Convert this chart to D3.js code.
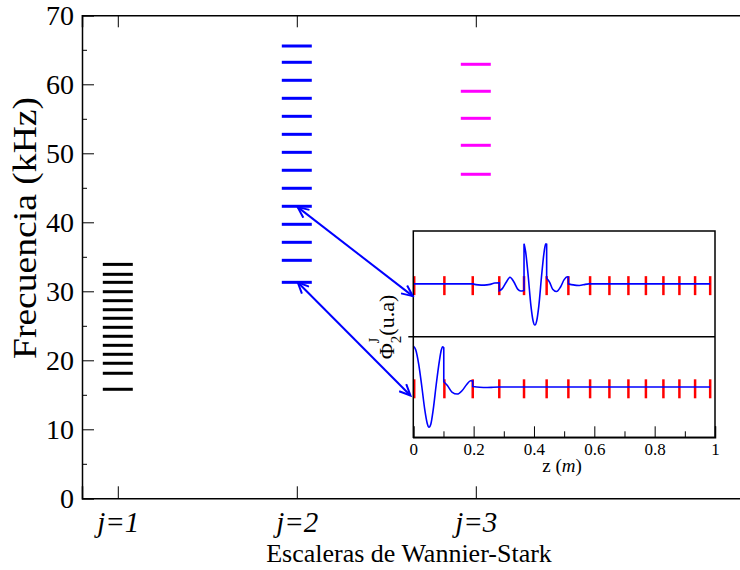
<!DOCTYPE html>
<html><head><meta charset="utf-8">
<script src="https://cdn.jsdelivr.net/npm/d3@7"></script>
<style>
body{margin:0;background:#fff}
svg{display:block}
text{font-family:"Liberation Serif","Times New Roman",serif;fill:#000}
</style></head>
<body><svg id="c" width="740" height="570"></svg>
<script>
// ---------- data ----------
const ladderJ = [1, 2, 3];
const xTickLabels = ["j=1", "j=2", "j=3"];
const levelsJ1 = [33.9, 32.46, 31.3, 29.94, 28.64, 27.33, 26.09, 24.78, 23.48, 22.17, 20.87, 19.57, 18.12, 15.8];
const levelsJ2 = [65.55, 63.19, 60.58, 57.97, 55.36, 52.75, 50.14, 47.54, 44.93, 42.32, 39.71, 37.1, 34.49, 31.3];
const levelsJ3 = [62.9, 58.99, 55.07, 51.16, 46.96];
const ladderColors = ["#000000", "#0000ff", "#ff00ff"];
const yTickValues = [0, 10, 20, 30, 40, 50, 60, 70];
const yMinorValues = [5, 15, 25, 35, 45, 55, 65];

// arrows: main-chart data coordinates (from level to inset)
const arrowFrom = [[2.005, 42.2], [2.005, 31.3]];
const arrowTo = [[2.648, 29.3], [2.635, 14.9]];

// inset
const zTickValues = [0, 0.2, 0.4, 0.6, 0.8, 1];
const zTickLabels = ["0", "0.2", "0.4", "0.6", "0.8", "1"];
const zMinorValues = [0.1, 0.3, 0.5, 0.7, 0.9];
const cavityZ = [0.003, 0.103, 0.197, 0.285, 0.367, 0.442, 0.514, 0.586, 0.650, 0.713, 0.771, 0.829, 0.882, 0.934, 0.984];
const modeUpper = [
  [[0, 0], [0.197, 0]],
  [[0.197, 0], [0.215, -0.02], [0.235, -0.025], [0.255, -0.01], [0.27, 0.015], [0.285, 0.02]],
  [[0.285, -0.13], [0.295, -0.09], [0.308, 0.03], [0.3205, 0.125], [0.333, 0.04], [0.346, -0.10], [0.356, -0.135], [0.367, -0.125]],
  [[0.367, 0.76], [0.372, 0.62], [0.38, 0.2], [0.39, -0.42], [0.397, -0.7], [0.403, -0.78], [0.409, -0.7], [0.416, -0.42], [0.426, 0.2], [0.434, 0.62], [0.439, 0.76], [0.442, 0.75]],
  [[0.442, 0.105], [0.452, 0.03], [0.462, -0.10], [0.475, -0.145], [0.488, -0.06], [0.5, 0.08], [0.51, 0.135], [0.514, 0.13]],
  [[0.514, 0], [0.53, -0.02], [0.55, -0.03], [0.57, -0.01], [0.586, 0.005]],
  [[0.586, 0], [0.984, 0]]
];
const modeLower = [
  [[0, 0.815], [0.008, 0.74], [0.018, 0.45], [0.028, 0.02], [0.038, -0.45], [0.046, -0.72], [0.052, -0.8], [0.058, -0.74], [0.066, -0.45], [0.076, 0.05], [0.086, 0.5], [0.093, 0.74], [0.097, 0.8], [0.101, 0.78]],
  [[0.101, 0.105], [0.113, 0.03], [0.128, -0.10], [0.146, -0.14], [0.162, -0.07], [0.177, 0.05], [0.19, 0.125], [0.197, 0.12]],
  [[0.197, 0.01], [0.22, -0.005], [0.245, -0.01], [0.265, -0.005], [0.285, 0]],
  [[0.285, 0], [0.984, 0]]
];

// ---------- layout ----------
const svg = d3.select("#c");
const x = d3.scaleLinear().domain([0.8, 4.5]).range([82, 744.3]);
const y = d3.scaleLinear().domain([0, 70]).range([498.3, 15.3]);
const ladders = [levelsJ1, levelsJ2, levelsJ3];

// bars
ladders.forEach((lv, i) => {
  svg.append("g").selectAll("line").data(lv).join("line")
    .attr("x1", x(ladderJ[i]) - 15).attr("x2", x(ladderJ[i]) + 15)
    .attr("y1", d => y(d)).attr("y2", d => y(d))
    .attr("stroke", ladderColors[i]).attr("stroke-width", 3);
});

// axes
function styleAxis(g, w) {
  g.select(".domain").attr("stroke", "#000").attr("stroke-width", w);
  g.selectAll(".tick line").attr("stroke", "#000").attr("stroke-width", 1);
}
const gl = svg.append("g").attr("transform", `translate(${x(0.8)},0)`)
  .call(d3.axisLeft(y).tickValues(yTickValues).tickSize(-12).tickPadding(8).tickFormat(d3.format("d")));
gl.selectAll(".tick text").attr("font-size", 28).attr("font-family", "Liberation Serif").attr("dy", "0.34em");
styleAxis(gl, 1.5);
const glm = svg.append("g").attr("transform", `translate(${x(0.8)},0)`)
  .call(d3.axisLeft(y).tickValues(yMinorValues).tickSize(-5).tickFormat(""));
glm.select(".domain").remove(); styleAxis(glm, 1);

const gb = svg.append("g").attr("transform", `translate(0,${y(0)})`)
  .call(d3.axisBottom(x).tickValues(ladderJ).tickSize(-12).tickPadding(13).tickFormat((d, i) => xTickLabels[i]));
gb.selectAll(".tick text").attr("font-size", 29).attr("font-style", "italic").attr("font-family", "Liberation Serif");
styleAxis(gb, 1.5);
const gt = svg.append("g").attr("transform", `translate(0,${y(70)})`)
  .call(d3.axisTop(x).tickValues(ladderJ).tickSize(-12).tickFormat(""));
styleAxis(gt, 1.5);

// axis titles
svg.append("text").attr("transform", "translate(36,228) rotate(-90)")
  .attr("text-anchor", "middle").attr("font-size", 34)
  .attr("textLength", 262).attr("lengthAdjust", "spacingAndGlyphs")
  .text("Frecuencia (kHz)");
svg.append("text").attr("x", 409).attr("y", 562).attr("text-anchor", "middle")
  .attr("font-size", 26).text("Escaleras de Wannier-Stark");

// ---------- inset ----------
const ix0 = 413.3, ix1 = 715, iy0 = 231, iMid = 336.7, iy1 = 437.3;
const z = d3.scaleLinear().domain([0, 1]).range([ix0, ix1]);
const inset = svg.append("g");
inset.append("rect").attr("x", ix0).attr("y", iy0).attr("width", ix1 - ix0).attr("height", iy1 - iy0)
  .attr("fill", "#fff").attr("stroke", "none");

function drawPanel(segs, top, bottom) {
  const ys = d3.scaleLinear().domain([-1, 1]).range([bottom, top]);
  const b = ys(0);
  inset.append("g").selectAll("line").data(cavityZ).join("line")
    .attr("x1", d => z(d)).attr("x2", d => z(d))
    .attr("y1", b - 7.7).attr("y2", b + 11.3)
    .attr("stroke", "#ff0000").attr("stroke-width", 2.5);
  const line = d3.line().x(d => z(d[0])).y(d => ys(d[1])).curve(d3.curveMonotoneX);
  const dStr = segs.map((s, i) => { const p = line(s); return i ? "L" + p.slice(1) : p; }).join("");
  inset.append("path").attr("d", dStr).attr("fill", "none").attr("stroke", "#0000ff").attr("stroke-width", 1.6);
}
drawPanel(modeUpper, iy0, iMid);
drawPanel(modeLower, iMid, iy1);

inset.append("rect").attr("x", ix0).attr("y", iy0).attr("width", ix1 - ix0).attr("height", iy1 - iy0)
  .attr("fill", "none").attr("stroke", "#000").attr("stroke-width", 1.5);
inset.append("line").attr("x1", ix0 - 5).attr("x2", ix1).attr("y1", iMid).attr("y2", iMid)
  .attr("stroke", "#000").attr("stroke-width", 1.5);

const gz = inset.append("g").attr("transform", `translate(0,${iy1})`)
  .call(d3.axisBottom(z).tickValues(zTickValues).tickSize(-11).tickPadding(6).tickFormat((d, i) => zTickLabels[i]));
gz.selectAll(".tick text").attr("font-size", 17).attr("font-family", "Liberation Serif");
styleAxis(gz, 1.5);
const gzm = inset.append("g").attr("transform", `translate(0,${iy1})`)
  .call(d3.axisBottom(z).tickValues(zMinorValues).tickSize(-6).tickFormat(""));
gzm.select(".domain").remove(); styleAxis(gzm, 1);

const zl = inset.append("text").attr("x", 562).attr("y", 472).attr("text-anchor", "middle").attr("font-size", 19);
zl.append("tspan").text("z (");
zl.append("tspan").attr("font-style", "italic").text("m");
zl.append("tspan").text(")");

const pl = inset.append("text").attr("transform", "translate(394,327) rotate(-90)")
  .attr("text-anchor", "middle").attr("font-size", 22);
pl.append("tspan").text("Φ");
pl.append("tspan").attr("font-size", 15).attr("dy", 7).text("2");
pl.append("tspan").attr("font-size", 14).attr("dx", -7.5).attr("dy", -22).text("J");
pl.append("tspan").attr("dx", 2).attr("dy", 15).text("(u.a)");

// ---------- arrows ----------
const defs = svg.append("defs");
defs.append("marker").attr("id", "ah").attr("viewBox", "-12 -6 14 12")
  .attr("refX", 0).attr("refY", 0).attr("markerWidth", 14).attr("markerHeight", 12)
  .attr("markerUnits", "userSpaceOnUse").attr("orient", "auto-start-reverse")
  .append("path").attr("d", "M-11,-5L0,0L-11,5").attr("fill", "none")
  .attr("stroke", "#0000ff").attr("stroke-width", 2);
svg.append("g").selectAll("line").data(arrowFrom).join("line")
  .attr("x1", d => x(d[0])).attr("y1", d => y(d[1]))
  .attr("x2", (d, i) => x(arrowTo[i][0])).attr("y2", (d, i) => y(arrowTo[i][1]))
  .attr("stroke", "#0000ff").attr("stroke-width", 2)
  .attr("marker-start", "url(#ah)").attr("marker-end", "url(#ah)");
</script></body></html>
